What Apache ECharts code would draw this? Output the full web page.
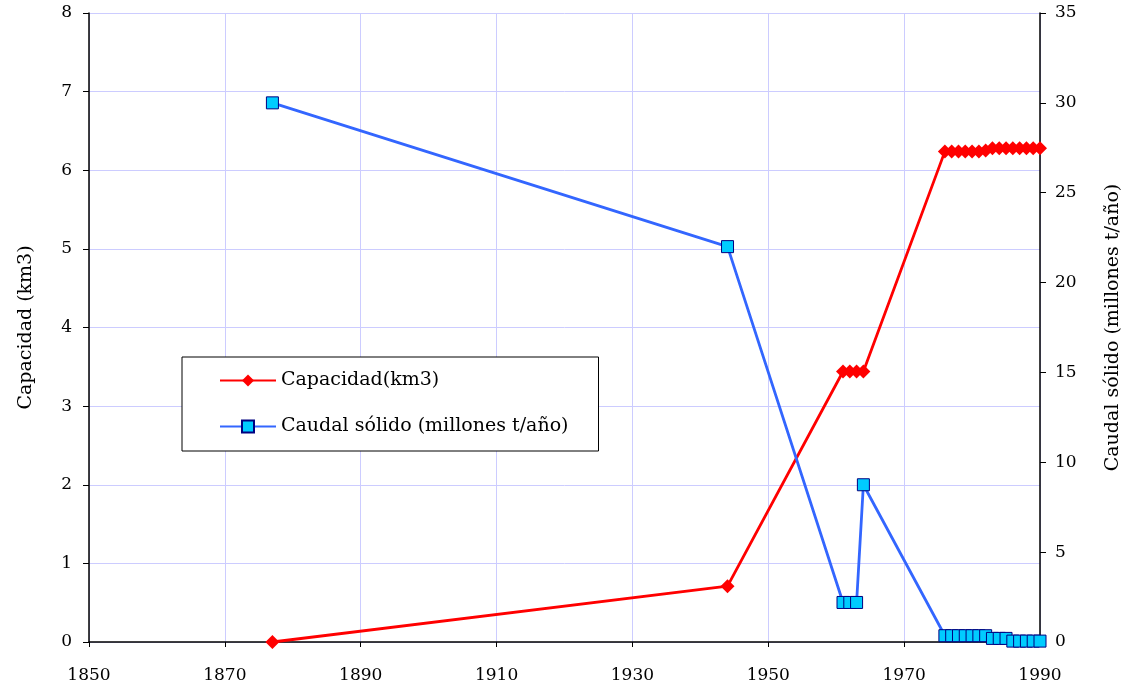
<!DOCTYPE html>
<html>
<head>
<meta charset="utf-8">
<script src="https://cdn.jsdelivr.net/npm/echarts@6/dist/echarts.min.js"></script>
<style>
  html, body { margin: 0; padding: 0; background: #fff; }
  #chart { width: 1131px; height: 688px; }
</style>
</head>
<body>
<div id="chart"></div>
<script>
// capacidad de embalse (km3) por año
const capYears = [1877, 1944, 1961, 1962, 1963, 1964, 1976, 1977, 1978, 1979, 1980, 1981, 1982, 1983, 1984, 1985, 1986, 1987, 1988, 1989, 1990]
const capValues = [0, 0.71, 3.44, 3.44, 3.44, 3.44, 6.24, 6.24, 6.24, 6.24, 6.24, 6.24, 6.25, 6.28, 6.28, 6.28, 6.28, 6.28, 6.28, 6.28, 6.28]

// caudal sólido (millones t/año) por año
const caudalYears = [1877, 1944, 1961, 1962, 1963, 1964, 1976, 1977, 1978, 1979, 1980, 1981, 1982, 1983, 1984, 1985, 1986, 1987, 1988, 1989, 1990]
const caudalValues = [30, 22, 2.2, 2.2, 2.2, 8.75, 0.35, 0.35, 0.35, 0.35, 0.35, 0.35, 0.35, 0.2, 0.2, 0.2, 0.05, 0.05, 0.05, 0.05, 0.05]

const xTicks = [1850, 1870, 1890, 1910, 1930, 1950, 1970, 1990]

const FONT = '"DejaVu Serif", "Liberation Serif", serif'
const GRID_COLOR = '#ccccff'

const chart = echarts.init(document.getElementById('chart'))

const axisText = { color: '#000', fontFamily: FONT, fontSize: 17 }

chart.setOption({
  animation: false,
  backgroundColor: '#fff',
  grid: { left: 89, right: 87, top: 13, bottom: 46 },
  legend: {
    left: 182,
    top: 357,
    orient: 'vertical',
    backgroundColor: '#fff',
    borderColor: '#000',
    borderWidth: 1,
    borderRadius: 0,
    padding: [14, 30, 15, 37],
    itemGap: 27,
    itemWidth: 56,
    itemHeight: 15,
    textStyle: { color: '#000', fontFamily: FONT, fontSize: 19 },
    data: ['Capacidad(km3)', 'Caudal sólido (millones t/año)']
  },
  xAxis: {
    type: 'value',
    min: xTicks[0],
    max: xTicks[xTicks.length - 1],
    interval: 20,
    axisLine: { show: true, lineStyle: { color: '#000', width: 1.5 } },
    axisTick: { show: true, length: 5, lineStyle: { color: '#000' } },
    axisLabel: { ...axisText, margin: 25, formatter: v => String(v) },
    splitLine: { show: true, lineStyle: { color: GRID_COLOR, width: 1 } }
  },
  yAxis: [
    {
      type: 'value',
      min: 0,
      max: 8,
      interval: 1,
      name: 'Capacidad (km3)',
      nameLocation: 'middle',
      nameGap: 53,
      nameTextStyle: { color: '#000', fontFamily: FONT, fontSize: 19 },
      axisLine: { show: true, lineStyle: { color: '#000', width: 1.5 } },
      axisTick: { show: true, length: 6, lineStyle: { color: '#000' } },
      axisLabel: { ...axisText, margin: 17 },
      splitLine: { show: true, lineStyle: { color: GRID_COLOR, width: 1 } }
    },
    {
      type: 'value',
      min: 0,
      max: 35,
      interval: 5,
      position: 'right',
      name: 'Caudal sólido (millones t/año)',
      nameLocation: 'middle',
      nameGap: 64,
      nameRotate: 90,
      nameTextStyle: { color: '#000', fontFamily: FONT, fontSize: 19 },
      axisLine: { show: true, lineStyle: { color: '#000', width: 1.5 } },
      axisTick: { show: true, length: 6, lineStyle: { color: '#000' } },
      axisLabel: { ...axisText, margin: 15 },
      splitLine: { show: false }
    }
  ],
  series: [
    {
      name: 'Capacidad(km3)',
      type: 'line',
      yAxisIndex: 0,
      data: capYears.map((y, i) => [y, capValues[i]]),
      symbol: 'diamond',
      symbolSize: 14,
      lineStyle: { color: '#ff0000', width: 2.8 },
      itemStyle: { color: '#ff0000', borderWidth: 0 },
      z: 3
    },
    {
      name: 'Caudal sólido (millones t/año)',
      type: 'line',
      yAxisIndex: 1,
      data: caudalYears.map((y, i) => [y, caudalValues[i]]),
      symbol: 'rect',
      symbolSize: 12,
      lineStyle: { color: '#3366ff', width: 2.8 },
      itemStyle: { color: '#00ccff', borderColor: '#000080', borderWidth: 1 },
      z: 4
    }
  ]
})
</script>
</body>
</html>
